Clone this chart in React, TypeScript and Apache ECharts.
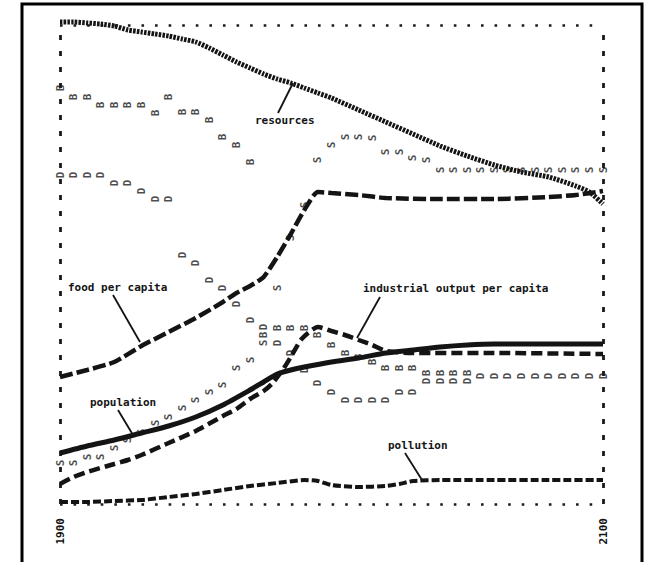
import React, { useEffect, useRef } from "react";
import * as echarts from "echarts";

// Relative chart units (0 = bottom frame line, 479 = top frame line)
const resources: [number, number][] = [
  [1900, 482], [1905, 482], [1910, 481], [1915, 480], [1920, 478], [1925, 474], [1930, 472],
  [1935, 470], [1940, 468], [1945, 465], [1950, 462], [1955, 456], [1960, 449], [1965, 442],
  [1970, 436], [1975, 430], [1980, 425], [1985, 421], [1990, 416], [1995, 411], [2000, 406],
  [2010, 394], [2020, 382], [2030, 370], [2040, 358], [2050, 348], [2060, 339], [2070, 332],
  [2080, 327], [2090, 318], [2095, 312], [2100, 300],
];
const foodPerCapita: [number, number][] = [
  [1900, 127], [1910, 134], [1920, 142], [1930, 158], [1940, 172], [1950, 186], [1960, 202],
  [1965, 211], [1970, 218], [1975, 227], [1980, 247], [1985, 270], [1990, 294], [1995, 312],
  [2000, 311], [2010, 309], [2020, 306], [2040, 305], [2060, 305], [2080, 307], [2090, 309],
  [2100, 313],
];
const population: [number, number][] = [
  [1900, 51], [1910, 58], [1920, 64], [1930, 71], [1940, 78], [1950, 87], [1960, 99],
  [1970, 114], [1975, 122], [1980, 130], [1985, 134], [1990, 137], [2000, 142], [2010, 146],
  [2020, 151], [2030, 154], [2040, 157], [2050, 159], [2060, 160], [2080, 160], [2100, 160],
];
const industrialOutput: [number, number][] = [
  [1900, 20], [1905, 27], [1910, 32], [1920, 40], [1925, 44], [1930, 49], [1940, 61],
  [1950, 73], [1960, 88], [1965, 95], [1970, 105], [1975, 113], [1978, 120], [1982, 134],
  [1985, 147], [1989, 165], [1995, 177], [2000, 173], [2005, 169], [2010, 164], [2015, 159],
  [2020, 153], [2030, 151], [2060, 151], [2100, 150],
];
const pollution: [number, number][] = [
  [1900, 2], [1910, 2], [1920, 3], [1930, 4], [1940, 7], [1950, 10], [1960, 14], [1970, 18],
  [1980, 21], [1990, 24], [1995, 23], [2000, 19], [2010, 17], [2020, 18], [2025, 20],
  [2030, 23], [2040, 24], [2060, 24], [2080, 24], [2100, 24],
];

// Printer-letter markers: B = birth rate, D = death rate, S = services per capita
const birthRateB: [number, number][] = [
  [1900, 416], [1905, 407], [1910, 407], [1915, 399], [1920, 399], [1925, 399], [1930, 399],
  [1935, 391], [1940, 407], [1945, 392], [1950, 392], [1955, 384], [1960, 367], [1965, 359],
  [1970, 342], [1975, 169], [1980, 176], [1985, 176], [1990, 176], [1995, 169], [2000, 159],
  [2005, 151], [2010, 147], [2015, 142], [2020, 136], [2025, 136], [2030, 136], [2035, 131],
  [2040, 131], [2045, 131], [2050, 131],
];
const deathRateD: [number, number][] = [
  [1900, 329], [1905, 329], [1910, 329], [1915, 329], [1920, 321], [1925, 321], [1930, 313],
  [1935, 305], [1940, 305], [1945, 249], [1950, 241], [1955, 224], [1960, 216], [1965, 200],
  [1970, 184], [1975, 177], [1980, 161], [1985, 151], [1990, 134], [1995, 121], [2000, 112],
  [2005, 104], [2010, 104], [2015, 104], [2020, 104], [2025, 112], [2030, 112], [2035, 123],
  [2040, 123], [2045, 123], [2050, 123], [2055, 128], [2060, 128], [2065, 128], [2070, 128],
  [2075, 128], [2080, 128], [2085, 128], [2090, 128], [2095, 128], [2100, 128],
];
const servicesS: [number, number][] = [
  [1900, 41], [1905, 41], [1910, 47], [1915, 47], [1920, 56], [1925, 64], [1930, 72],
  [1935, 81], [1940, 87], [1945, 96], [1950, 104], [1955, 112], [1960, 119], [1965, 136],
  [1970, 144], [1975, 161], [1980, 216], [1985, 266], [1990, 299], [1995, 344], [2000, 359],
  [2005, 367], [2010, 367], [2015, 366], [2020, 352], [2025, 352], [2030, 346], [2035, 344],
  [2040, 334], [2045, 334], [2050, 334], [2055, 334], [2060, 334], [2065, 334], [2070, 334],
  [2075, 334], [2080, 334], [2085, 334], [2090, 334], [2095, 334], [2100, 334],
];

const yearLabels = ["1900", "2100"];

const MONO = "'DejaVu Sans Mono', 'Liberation Mono', monospace";
const INK = "#141414";

function letterSeries(name: string, letter: string, data: [number, number][]) {
  return {
    type: "scatter",
    name,
    data,
    symbolSize: 1,
    silent: true,
    z: 3,
    itemStyle: { color: "rgba(0,0,0,0)" },
    label: {
      show: true,
      formatter: letter,
      position: "inside",
      rotate: 90,
      fontFamily: MONO,
      fontWeight: "bold",
      fontSize: 11,
      color: "#1c1c1c",
    },
  };
}

function heavyLine(name: string, data: [number, number][], width: number, type: any) {
  return {
    type: "line",
    name,
    data,
    showSymbol: false,
    clip: false,
    smooth: 0.2,
    z: 5,
    silent: true,
    lineStyle: { color: INK, width, type, cap: "butt" },
  };
}

export default function App() {
  const ref = useRef<HTMLDivElement>(null);
  useEffect(() => {
    if (!ref.current) return;
    const chart = echarts.init(ref.current, undefined, { renderer: "svg" });
    const dotted = { color: "#1a1a1a", width: 2.6, type: [2.6, 10.98], cap: "butt" };
    const dashed = { color: "#1a1a1a", width: 2.8, type: [5, 11], cap: "butt" };
    const annot = (text: string, x: number, y: number) => ({
      type: "text",
      x,
      y,
      style: {
        text,
        fill: INK,
        font: `bold 11px ${MONO}`,
        textAlign: "left",
        textVerticalAlign: "middle",
      },
      z: 10,
    });
    const leader = (x1: number, y1: number, x2: number, y2: number) => ({
      type: "line",
      shape: { x1, y1, x2, y2 },
      style: { stroke: INK, lineWidth: 1.8 },
      z: 10,
    });
    chart.setOption({
      animation: false,
      backgroundColor: "#ffffff",
      grid: { left: 60, right: 47, top: 25, bottom: 58 },
      xAxis: [
        {
          type: "value",
          min: 1900,
          max: 2100,
          interval: 100,
          position: "bottom",
          axisLine: { show: true, onZero: false, lineStyle: dotted },
          axisTick: { show: false },
          splitLine: { show: false },
          axisLabel: {
            show: true,
            rotate: 90,
            margin: 14,
            fontFamily: MONO,
            fontWeight: "bold",
            fontSize: 11,
            color: INK,
            showMinLabel: true,
            showMaxLabel: true,
            formatter: (v: number) => (yearLabels.includes(String(v)) ? String(v) : ""),
          },
        },
        {
          type: "value",
          min: 1900,
          max: 2100,
          position: "top",
          axisLine: { show: true, onZero: false, lineStyle: dotted },
          axisTick: { show: false },
          splitLine: { show: false },
          axisLabel: { show: false },
        },
      ],
      yAxis: [
        {
          type: "value",
          min: 0,
          max: 479,
          position: "left",
          axisLine: { show: true, onZero: false, lineStyle: dashed },
          axisTick: { show: false },
          splitLine: { show: false },
          axisLabel: { show: false },
        },
        {
          type: "value",
          min: 0,
          max: 479,
          position: "right",
          axisLine: { show: true, onZero: false, lineStyle: dashed },
          axisTick: { show: false },
          splitLine: { show: false },
          axisLabel: { show: false },
        },
      ],
      series: [
        letterSeries("birth rate", "B", birthRateB),
        letterSeries("death rate", "D", deathRateD),
        letterSeries("services per capita", "S", servicesS),
        heavyLine("resources", resources, 5, [2.5, 1.2]),
        heavyLine("food per capita", foodPerCapita, 4.5, [13, 4]),
        heavyLine("population", population, 5, "solid"),
        heavyLine("industrial output per capita", industrialOutput, 4.5, [11, 5]),
        heavyLine("pollution", pollution, 4, [8, 3]),
      ],
      graphic: [
        {
          type: "rect",
          shape: { x: 22, y: 4, width: 620, height: 600 },
          style: { fill: "none", stroke: "#000", lineWidth: 3 },
          z: 20,
          silent: true,
        },
        annot("resources", 255, 120),
        leader(293, 83, 278, 113),
        annot("food per capita", 68, 287),
        leader(113, 295, 140, 342),
        annot("industrial output per capita", 363, 288),
        leader(380, 297, 357, 338),
        annot("population", 90, 402),
        leader(118, 410, 133, 435),
        annot("pollution", 388, 445),
        leader(405, 453, 422, 480),
      ],
    });
    return () => chart.dispose();
  }, []);
  return (
    <div
      ref={ref}
      style={{ position: "fixed", left: 0, top: 0, width: 650, height: 562, background: "#fff" }}
    />
  );
}
